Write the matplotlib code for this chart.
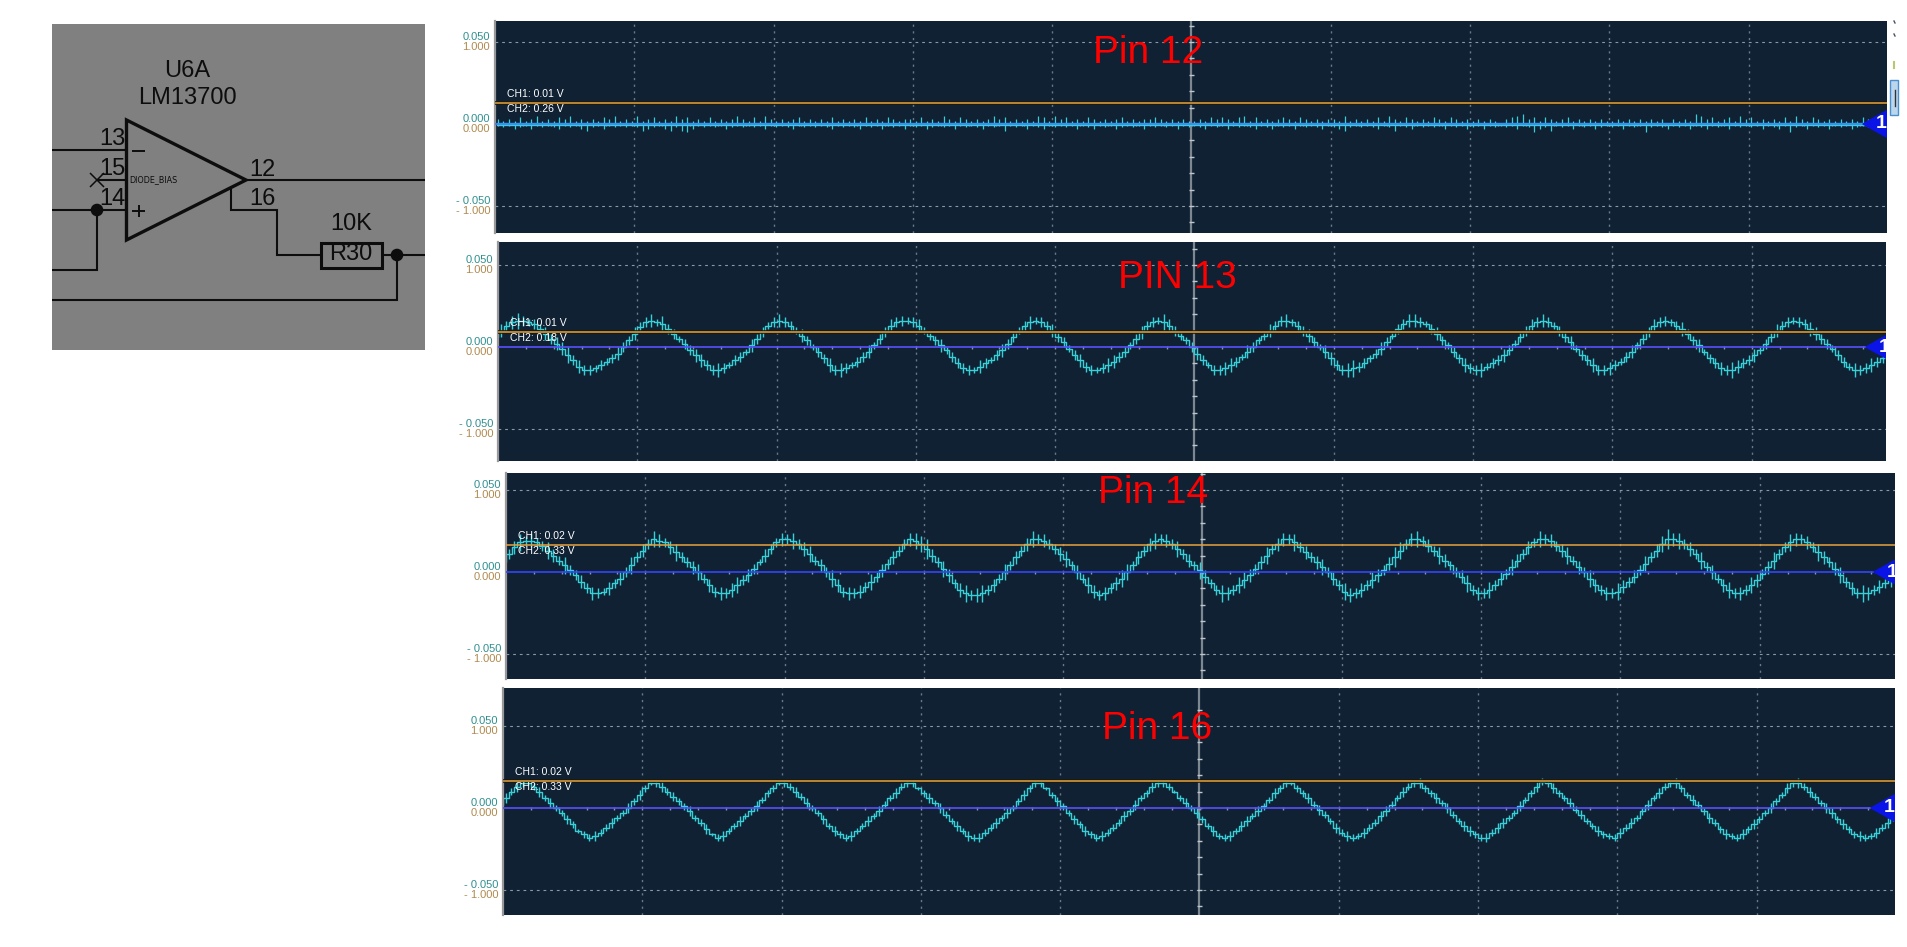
import numpy as np
import matplotlib
matplotlib.use("Agg")
import matplotlib.pyplot as plt
from matplotlib.patches import Rectangle, Circle, Polygon

plt.rcParams["font.family"] = ["Liberation Sans", "DejaVu Sans"]

W, H = 1908, 947

# ---- values (CH1 in mV, one sample every 0.04 div) ----
pin_titles = ["Pin 12", "PIN 13", "Pin 14", "Pin 16"]
ch1_readout = [0.01, 0.01, 0.02, 0.02]
ch2_readout = [0.26, 0.18, 0.33, 0.33]
ch1_ticks = [0.05, 0.0, -0.05]
ch2_ticks = [1.0, 0.0, -1.0]
ch1_ticklabels = ["0.050", "0.000", "- 0.050"]
ch2_ticklabels = ["1.000", "0.000", "- 1.000"]

pin12_up = [
    3, 2, 3, 2, 4, 2, 3, 5, 2, 3, 2, 4, 3, 5, 2, 3, 2, 3, 2, 4, 3, 5, 2, 3, 2,
    5, 2, 3, 4, 2, 3, 2, 5, 3, 4, 2, 3, 2, 4, 2, 3, 2, 3, 5, 3, 2, 4, 2, 5, 3,
    2, 3, 2, 3, 4, 2, 3, 2, 3, 2, 4, 2, 3, 2, 3, 2, 4, 2, 3, 2, 4, 3, 2, 3, 3,
    2, 4, 2, 3, 2, 5, 3, 2, 4, 3, 2, 3, 2, 3, 5, 3, 4, 2, 3, 2, 3, 2, 5, 4, 2,
    5, 3, 4, 2, 3, 2, 4, 3, 2, 3, 2, 3, 4, 2, 3, 2, 3, 3, 4, 3, 2, 3, 2, 3, 2,
    2, 3, 2, 4, 3, 4, 3, 2, 4, 5, 2, 4, 2, 3, 2, 3, 4, 3, 2, 4, 3, 2, 3, 2, 3,
    3, 2, 5, 2, 3, 2, 3, 2, 4, 2, 5, 3, 2, 4, 3, 2, 3, 2, 4, 3, 2, 4, 3, 2, 3,
    2, 3, 2, 3, 2, 0, 3, 4, 5, 6, 3, 4, 2, 4, 3, 2, 3, 4, 2, 3, 2, 3, 2, 3, 2,
    2, 3, 2, 3, 2, 3, 2, 3, 2, 3, 0, 3, 2, 3, 2, 6, 5, 3, 4, 2, 3, 4, 2, 5, 3,
    4, 2, 3, 2, 3, 2, 4, 2, 5, 3, 2, 4, 3, 2, 3, 2, 3, 2, 3, 2, 4, 3, 2, 3, 2,
]
pin12_down = [
    1, 2, 1, 3, 2, 1, 3, 1, 2, 1, 2, 3, 1, 2, 1, 3, 4, 2, 1, 3, 1, 2, 1, 2, 1,
    2, 4, 3, 2, 1, 3, 4, 2, 4, 5, 3, 1, 2, 1, 2, 1, 3, 2, 1, 2, 1, 2, 1, 3, 1,
    2, 1, 2, 3, 1, 2, 1, 2, 1, 2, 3, 1, 2, 1, 2, 3, 1, 2, 1, 3, 1, 2, 1, 3, 1,
    2, 1, 3, 2, 1, 2, 1, 3, 1, 2, 1, 2, 3, 1, 2, 1, 4, 1, 2, 1, 3, 1, 2, 3, 1,
    2, 1, 2, 1, 3, 1, 2, 3, 1, 2, 1, 3, 2, 1, 2, 1, 3, 1, 2, 1, 2, 1, 3, 1, 2,
    1, 2, 3, 1, 2, 1, 3, 1, 2, 1, 2, 3, 1, 2, 3, 1, 2, 1, 3, 1, 2, 1, 2, 3, 1,
    2, 3, 4, 2, 1, 2, 1, 2, 3, 1, 2, 4, 1, 2, 3, 1, 2, 1, 2, 1, 3, 1, 2, 1, 3,
    2, 1, 3, 1, 2, 1, 2, 1, 3, 1, 2, 5, 3, 2, 4, 1, 2, 1, 3, 1, 2, 1, 3, 2, 1,
    2, 1, 3, 1, 2, 1, 5, 2, 1, 2, 3, 1, 2, 1, 3, 1, 2, 3, 1, 2, 1, 3, 1, 2, 1,
    2, 1, 3, 1, 2, 3, 1, 5, 2, 1, 3, 1, 2, 1, 3, 1, 2, 1, 3, 2, 1, 2, 1, 2, 1,
]

pin13_level = [
    6, 10, 13, 15,
    16, 16, 15, 14, 11, 8, 5, 2, -1, -5, -8, -12, -14, -14, -13, -11, -9, -7, -4, 0, 4, 8, 12,
    15, 16, 15, 14, 11, 8, 5, 2, -2, -5, -8, -11, -14, -14, -13, -11, -8, -6, -3, 1, 5, 9, 13,
    15, 16, 15, 13, 10, 7, 4, 0, -3, -7, -11, -14, -14, -13, -11, -9, -6, -3, 1, 5, 9, 13,
    15, 16, 16, 15, 13, 10, 7, 4, 1, -2, -6, -10, -13, -14, -14, -12, -10, -8, -5, -2, 2, 6, 10, 13,
    15, 16, 15, 13, 10, 6, 3, -1, -5, -8, -12, -14, -14, -13, -11, -9, -6, -3, 1, 5, 9, 13,
    15, 16, 15, 13, 10, 7, 4, 0, -4, -8, -11, -14, -14, -13, -11, -9, -6, -3, 0, 4, 7, 10, 13,
    16, 16, 15, 13, 10, 7, 3, 0, -3, -7, -11, -14, -14, -13, -12, -10, -7, -4, -1, 3, 7, 11, 14,
    16, 16, 15, 14, 11, 8, 4, 1, -3, -7, -11, -13, -14, -14, -12, -10, -8, -5, -2, 2, 6, 10, 13,
    15, 16, 15, 13, 10, 6, 3, -1, -5, -8, -11, -14, -14, -13, -11, -9, -6, -3, 1, 5, 9, 13,
    15, 16, 15, 13, 11, 8, 4, 1, -3, -7, -10, -13, -14, -14, -12, -10, -8, -5, -2, 2, 6, 10, 13,
    15, 16, 15, 14, 11, 8, 5, 2, -1, -5, -9, -12, -14, -14, -13, -11, -9, -7, -6,
]
pin13_span = [
    3, 4, 3, 4, 5, 3, 2, 3, 3, 4, 3, 4, 4, 5, 3, 4, 3, 3, 2, 3, 2, 3, 4, 3, 3,
    4, 3, 3, 4, 2, 5, 3, 3, 2, 3, 3, 4, 4, 3, 3, 4, 3, 2, 3, 3, 2, 4, 3, 3, 2,
    3, 4, 3, 3, 2, 4, 3, 2, 3, 3, 4, 3, 4, 3, 2, 3, 3, 4, 2, 3, 3, 4, 3, 3, 2,
    3, 4, 2, 3, 3, 4, 2, 3, 3, 3, 3, 2, 4, 3, 2, 3, 4, 3, 3, 2, 3, 4, 2, 3, 3,
    4, 3, 3, 2, 3, 4, 3, 3, 2, 3, 4, 4, 3, 3, 2, 3, 4, 3, 3, 2, 5, 4, 3, 3, 2,
    3, 4, 3, 2, 3, 3, 4, 4, 3, 2, 4, 3, 2, 3, 4, 3, 3, 4, 2, 3, 3, 4, 3, 2, 4,
    4, 3, 3, 4, 5, 3, 3, 2, 3, 4, 3, 2, 3, 3, 4, 4, 3, 2, 3, 4, 3, 2, 3, 3, 4,
    3, 3, 4, 2, 3, 3, 4, 3, 2, 3, 3, 4, 3, 4, 3, 2, 3, 3, 4, 2, 3, 3, 4, 3, 3,
    4, 3, 2, 3, 4, 2, 3, 3, 4, 3, 3, 2, 3, 4, 3, 3, 4, 2, 3, 3, 4, 3, 5, 4, 3,
    3, 4, 2, 3, 3, 4, 3, 3, 2, 3, 3, 4, 4, 3, 3, 2, 3, 3, 2, 4, 3, 3, 4, 3, 3, 3,
]

pin14_level = [
    6, 11, 15, 18,
    19, 19, 18, 16, 13, 10, 7, 4, 1, -2, -6, -10, -13, -13, -12, -10, -7, -4, 0, 4, 9, 13, 17,
    20, 19, 18, 15, 12, 9, 6, 3, 0, -4, -8, -12, -13, -13, -11, -8, -5, -2, 2, 6, 10, 14, 18,
    20, 20, 19, 17, 14, 11, 7, 4, 0, -4, -8, -12, -13, -13, -12, -9, -6, -3, 1, 5, 9, 13, 17,
    20, 19, 17, 14, 10, 6, 2, -2, -7, -11, -13, -14, -14, -13, -11, -8, -4, 0, 4, 9, 13, 17,
    20, 20, 19, 17, 14, 11, 8, 4, 0, -4, -8, -12, -14, -13, -10, -7, -4, 0, 4, 9, 13, 17,
    19, 20, 19, 17, 14, 11, 7, 4, 1, -3, -7, -11, -13, -13, -11, -8, -5, -2, 2, 6, 10, 14, 17,
    20, 20, 18, 15, 12, 9, 6, 3, 0, -4, -8, -12, -14, -13, -11, -8, -5, -2, 1, 5, 9, 13, 17,
    20, 20, 19, 16, 13, 10, 7, 4, 0, -3, -7, -11, -13, -13, -11, -8, -4, -1, 3, 7, 11, 15, 18,
    20, 20, 19, 16, 13, 10, 7, 3, 0, -4, -8, -11, -13, -13, -12, -9, -6, -3, 1, 5, 9, 13, 17,
    20, 20, 19, 17, 14, 11, 7, 3, 0, -4, -8, -11, -13, -13, -11, -8, -5, -1, 3, 7, 11, 15, 18,
    20, 20, 18, 15, 12, 9, 6, 2, -2, -6, -10, -13, -13, -13, -11, -9, -7, -5, -3,
]
pin14_span = [
    4, 3, 4, 5, 3, 4, 3, 3, 5, 4, 3, 5, 3, 3, 4, 3, 4, 3, 2, 4, 3, 4, 3, 5, 3,
    4, 3, 5, 4, 3, 4, 5, 3, 3, 4, 5, 3, 4, 3, 4, 3, 4, 5, 3, 4, 3, 2, 4, 3, 3,
    4, 3, 5, 3, 4, 5, 3, 4, 3, 5, 4, 3, 4, 3, 4, 3, 5, 3, 4, 3, 4, 3, 3, 4, 5,
    5, 6, 4, 3, 5, 4, 3, 4, 5, 3, 4, 5, 3, 4, 3, 5, 3, 4, 3, 4, 5, 3, 4, 3, 3,
    4, 5, 3, 4, 3, 5, 4, 3, 4, 3, 4, 5, 5, 3, 4, 3, 4, 5, 3, 4, 3, 5, 3, 4, 3,
    5, 4, 3, 3, 5, 4, 3, 5, 5, 4, 3, 4, 5, 3, 4, 4, 3, 5, 3, 4, 3, 4, 5, 3, 4,
    3, 5, 4, 3, 4, 3, 5, 4, 3, 4, 6, 5, 3, 4, 5, 3, 4, 3, 5, 4, 3, 3, 4, 5, 3,
    4, 3, 5, 3, 4, 3, 5, 4, 3, 4, 3, 5, 3, 4, 3, 4, 5, 3, 4, 3, 5, 4, 3, 4, 3,
    5, 4, 3, 4, 3, 5, 3, 4, 5, 6, 4, 5, 3, 4, 3, 5, 3, 4, 3, 4, 5, 3, 4, 3, 5,
    4, 3, 4, 5, 3, 3, 5, 4, 3, 4, 3, 5, 4, 3, 4, 5, 3, 4, 3, 5, 4, 3, 4, 3, 4, 3,
]

pin16_level = [
    2, 6, 10, 13,
    15, 15, 13, 10, 6, 3, 0, -3, -7, -10, -14, -16, -18, -17, -15, -12, -9, -6, -3, 0, 4, 8, 12,
    15, 15, 13, 10, 7, 4, 1, -2, -6, -9, -13, -16, -18, -17, -14, -11, -8, -5, -2, 1, 5, 9, 12,
    15, 15, 13, 10, 7, 3, 0, -3, -7, -11, -14, -16, -18, -17, -14, -11, -8, -5, -2, 2, 6, 9, 13,
    15, 15, 12, 9, 6, 3, 0, -4, -8, -11, -14, -17, -18, -18, -15, -12, -9, -6, -3, 0, 4, 8, 12,
    15, 15, 12, 8, 4, 1, -3, -7, -10, -14, -16, -18, -17, -15, -12, -9, -5, -2, 2, 6, 9, 13,
    15, 15, 13, 10, 6, 3, 0, -3, -7, -11, -14, -17, -18, -17, -14, -11, -8, -5, -2, 1, 5, 9, 12,
    15, 15, 12, 9, 6, 2, -1, -4, -8, -12, -15, -17, -18, -17, -15, -12, -9, -5, -2, 2, 6, 10, 13,
    15, 15, 12, 9, 6, 3, 0, -4, -8, -11, -14, -16, -18, -18, -15, -12, -9, -6, -3, 1, 5, 9, 13,
    16, 15, 12, 9, 6, 3, -1, -4, -8, -11, -14, -16, -17, -18, -15, -12, -9, -6, -2, 2, 6, 9, 13,
    15, 15, 12, 8, 5, 2, -2, -6, -9, -13, -16, -17, -18, -16, -13, -10, -7, -3, 0, 4, 8, 12,
    15, 15, 13, 10, 7, 3, 0, -3, -7, -10, -13, -16, -17, -18, -17, -15, -12, -9, -6,
]
pin16_span = [
    2, 3, 2, 3, 2, 1, 2, 3, 2, 3, 2, 2, 3, 2, 1, 2, 2, 3, 2, 2, 3, 2, 2, 3, 2,
    3, 2, 1, 2, 3, 2, 3, 2, 2, 3, 2, 2, 3, 1, 2, 3, 2, 2, 3, 2, 2, 3, 2, 2, 2,
    1, 2, 2, 3, 2, 3, 2, 2, 3, 2, 3, 2, 2, 3, 2, 2, 3, 2, 3, 2, 2, 3, 2, 2, 2,
    1, 2, 3, 2, 3, 2, 2, 3, 2, 3, 2, 3, 2, 2, 3, 2, 3, 2, 2, 3, 2, 2, 2, 1, 2,
    3, 2, 2, 3, 2, 3, 2, 2, 3, 2, 2, 2, 3, 2, 3, 2, 2, 3, 2, 2, 2, 1, 2, 3, 2,
    3, 2, 2, 3, 2, 2, 3, 2, 3, 3, 2, 3, 2, 2, 3, 2, 2, 1, 2, 2, 3, 2, 3, 2, 2,
    3, 2, 3, 2, 2, 3, 2, 2, 3, 3, 2, 2, 3, 2, 2, 3, 2, 2, 3, 2, 3, 2, 2, 3, 3,
    2, 2, 3, 2, 3, 3, 2, 2, 3, 2, 2, 3, 2, 2, 3, 2, 2, 3, 2, 3, 2, 2, 3, 2, 2,
    2, 3, 2, 3, 2, 2, 3, 2, 3, 2, 2, 3, 2, 2, 3, 2, 2, 3, 2, 2, 3, 2, 2, 3, 2,
    3, 2, 2, 3, 2, 2, 3, 2, 3, 2, 3, 2, 2, 3, 3, 2, 3, 2, 2, 3, 2, 2, 3, 2, 3, 2,
]

# pixel box of each scope panel: left, right, top, bottom, zero line
panel_boxes = [
    (495, 1887, 21, 233, 124),
    (498, 1886, 242, 461, 347),
    (506, 1895, 473, 679, 572),
    (503, 1895, 688, 915, 808),
]
# left end and baseline of the red captions
title_spots = [(1093, 63), (1118, 288), (1098, 503), (1102, 739)]
px_per_div = 139.3
px_per_volt = 82 / 0.05

BG = "#0f2133"
CYAN = "#38d0d8"
TEAL = "#2f8f8f"
TAN = "#b08a4f"
ORANGE = "#e8a33d"
BLUES = ["#3f7fff", "#5a50ff", "#3344ff", "#5a50ff"]

fig = plt.figure(figsize=(W / 100, H / 100), dpi=100, facecolor="white")

# ---- schematic, drawn straight in pixel coordinates ----
sch = fig.add_axes([0, 0, 1, 1])
sch.set_xlim(0, W)
sch.set_ylim(H, 0)
sch.axis("off")
sch.add_patch(Rectangle((52, 24), 373, 326, fc="#808080", ec="none"))
INK = "#0d0d0d"


def wire(xs, ys, lw=1.5):
    sch.plot(xs, ys, color=INK, lw=lw, solid_capstyle="butt", solid_joinstyle="miter")


wire([52, 126], [150, 150])
wire([97, 126], [180, 180])
wire([52, 126], [210, 210])
wire([97, 97, 52], [210, 270, 270])
wire([246, 425], [180, 180])
wire([231.5, 231.5, 277, 277, 321], [188, 210, 210, 255, 255])
wire([382, 425], [255, 255])
wire([397, 397, 52], [255, 300, 300])
wire([90, 104], [173, 187], lw=1.1)
wire([90, 104], [187, 173], lw=1.1)
wire([132.5, 145], [151, 151], lw=1.4)
wire([132.5, 145], [211, 211], lw=1.4)
wire([138.7, 138.7], [205, 217], lw=1.4)
sch.add_patch(Polygon([(126.5, 120), (126.5, 240), (246, 180)], closed=True, fc="none", ec=INK, lw=2.4))
sch.add_patch(Rectangle((321, 243), 61, 25, fc="none", ec=INK, lw=2.2))
sch.add_patch(Circle((97, 210), 6.3, fc=INK, ec="none"))
sch.add_patch(Circle((397, 255), 6.3, fc=INK, ec="none"))

sch_labels = [("U6A", 187, 71), ("LM13700", 187, 98), ("13", 112, 139), ("15", 112, 169),
              ("14", 112, 199), ("12", 262, 170), ("16", 262, 199), ("10K", 351, 224), ("R30", 351, 254)]
for s, x, y in sch_labels:
    sch.text(x, y, s, color=INK, fontsize=17, ha="center", va="center")
sch.text(129, 180, "DIODE_BIAS", color=INK, fontsize=5.8, ha="left", va="center", family="DejaVu Sans")

# cut-off bits of the scope software at the right edge
sch.add_patch(Rectangle((1890, 80), 8, 35, fc="#bcd6ee", ec="#4a90d0", lw=1))
sch.plot([1895, 1895], [90, 106], color="#333333", lw=1)
sch.plot([1894, 1895], [21, 23], color="#445566", lw=1)
sch.plot([1894, 1895], [34, 36], color="#445566", lw=1)
sch.plot([1894, 1894], [62, 68], color="#b8c870", lw=1.5)

# ---- scope panels ----
traces = [(np.zeros(len(pin12_up)), None), (pin13_level, pin13_span),
          (pin14_level, pin14_span), (pin16_level, pin16_span)]

for i, (left, right, top, bot, zero) in enumerate(panel_boxes):
    ax = fig.add_axes([left / W, 1 - bot / H, (right - left) / W, (bot - top) / H], facecolor=BG)
    ax.set_xlim(0, (right - left) / px_per_div)
    ax.set_ylim((zero - bot) / px_per_volt, (zero - top) / px_per_volt)
    for name, sp in ax.spines.items():
        sp.set_visible(name == "left")
    ax.spines["left"].set_color("#999999")
    ax.spines["left"].set_linewidth(1.6)
    ax.set_xticks([])
    ax.set_yticks(ch1_ticks, ch1_ticklabels, color=TEAL, fontsize=8, va="bottom")
    ax.tick_params(axis="y", length=0, pad=3.5)

    # graticule
    for d in [1, 2, 3, 4, 6, 7, 8, 9]:
        ax.axvline(d, color="#66788a", lw=1, ls=(0, (1.6, 3.2)), zorder=1)
    for v in [0.05, -0.05]:
        ax.axhline(v, color="#8a98a4", lw=0.8, ls=(0, (2.5, 3.5)), zorder=1)
    ax.axvline(5, color="#7c8790", lw=1.6, zorder=1)
    ax.hlines(np.arange(-0.06, 0.0601, 0.01), 4.98, 5.02, color="#c0c6cc", lw=1, zorder=1)
    ax.vlines(np.arange(0.2, 9.9, 0.2), -0.0012, 0.0008, color="#8a98a4", lw=1, zorder=1)

    # CH1 trace
    level = np.asarray(traces[i][0]) / 1000
    if i == 0:
        t = 0.02 + 0.04 * np.arange(len(level))
        ax.vlines(t, -np.asarray(pin12_down) / 1000, np.asarray(pin12_up) / 1000, color=CYAN, lw=0.9, zorder=2)
        ax.plot(t, level, color=CYAN, lw=2.4, zorder=2)
    else:
        t = -0.02 + 0.04 * np.arange(len(level))
        span = np.asarray(traces[i][1]) / 1000
        ax.vlines(t, level - span, level + span, color=CYAN, lw=1.0, zorder=2)
        ax.plot(t, level, color=CYAN, lw=1.0, drawstyle="steps-mid", zorder=2)
    ax.plot([0, 9.83], [0, 0], color=BLUES[i], lw=1.2, zorder=3)

    # channel marker
    ax.fill([9.82, 10.0, 10.0], [0, 0.0085, -0.0085], color="#0a14e6", zorder=4, clip_on=True)
    ax.text(9.95, 0, "1", color="white", fontsize=14, fontweight="bold", ha="center", va="center",
            zorder=5, clip_on=True)

    # CH2 shares the panel on a scale of its own
    ax2 = ax.twinx()
    ax2.set_ylim(ax.get_ylim()[0] * 20, ax.get_ylim()[1] * 20)
    ax2.patch.set_visible(False)
    for sp in ax2.spines.values():
        sp.set_visible(False)
    ax2.yaxis.tick_left()
    ax2.set_yticks(ch2_ticks, ch2_ticklabels, color=TAN, fontsize=8, va="top")
    ax2.tick_params(axis="y", length=0, pad=3.5)
    if i != 2:
        ax2.axhline(ch2_readout[i], color="#1a1a12", lw=2.6, zorder=1)
    ax2.axhline(ch2_readout[i], color=ORANGE, lw=1.1, zorder=2)
    ax2.annotate(f"CH1: {ch1_readout[i]:.2f} V", (0, ch2_readout[i]), xytext=(8.5, 6.3),
                 textcoords="offset points", color="white", fontsize=7.5, va="center", zorder=6)
    ax2.annotate(f"CH2: {ch2_readout[i]:.2f} V", (0, ch2_readout[i]), xytext=(8.5, -4.5),
                 textcoords="offset points", color="white", fontsize=7.5, va="center", zorder=6)

    fig.text(title_spots[i][0] / W, 1 - title_spots[i][1] / H, pin_titles[i], color="#ff0000",
             fontsize=28, ha="left", va="baseline", zorder=10)

fig.savefig("out.png", dpi=100)
